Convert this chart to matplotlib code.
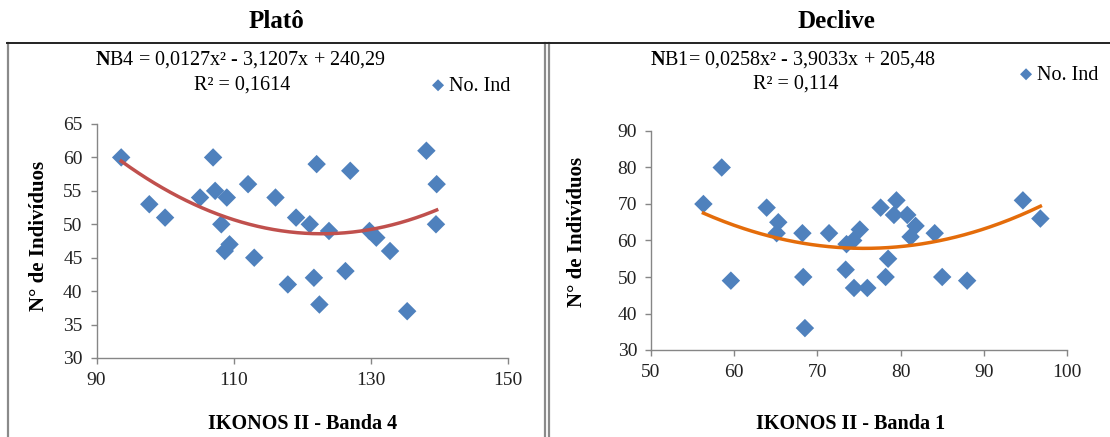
import matplotlib
matplotlib.use("Agg")
import matplotlib.pyplot as plt
from matplotlib.lines import Line2D
import numpy as np

# Plato - IKONOS II banda 4
plato_x = [93.6, 97.7, 100.0, 105.1, 107.0, 107.3, 109.0, 108.2, 108.7, 109.4,
           112.1, 113.0, 116.1, 117.9, 119.1, 121.1, 121.7, 122.1, 122.5, 123.9,
           126.3, 127.0, 129.8, 130.8, 132.8, 135.3, 138.1, 139.6, 139.5]
plato_y = [60, 53, 51, 54, 60, 55, 54, 50, 46, 47,
           56, 45, 54, 41, 51, 50, 42, 59, 38, 49,
           43, 58, 49, 48, 46, 37, 61, 56, 50]
plato_coef = [0.0127, -3.1207, 240.29]

# Declive - IKONOS II banda 1
declive_x = [56.3, 58.5, 59.6, 63.9, 65.3, 65.1, 68.2, 68.3, 68.5, 71.4,
             73.4, 73.5, 74.3, 74.4, 75.1, 76.0, 77.6, 78.2, 78.5, 79.2,
             79.5, 80.8, 81.2, 81.8, 84.1, 85.0, 88.0, 94.7, 96.8]
declive_y = [70, 80, 49, 69, 65, 62, 62, 50, 36, 62,
             52, 59, 60, 47, 63, 47, 69, 50, 55, 67,
             71, 67, 61, 64, 62, 50, 49, 71, 66]
declive_coef = [0.0258, -3.9033, 205.48]

W, H = 1110, 437
BLUE = "#4F81BD"
AXIS_GRAY = "#868686"

plt.rcParams["font.family"] = ["Liberation Serif", "DejaVu Serif"]
plt.rcParams["mathtext.fontset"] = "custom"
plt.rcParams["mathtext.rm"] = "Liberation Serif"
plt.rcParams["mathtext.bf"] = "Liberation Serif:bold"


def px(x, y):
    # pixel (vanaf linksboven) -> figuur fractie
    return x / W, 1 - y / H


def ax_rect(x0, y0, x1, y1):
    return [x0 / W, 1 - y1 / H, (x1 - x0) / W, (y1 - y0) / H]


fig = plt.figure(figsize=(W / 100, H / 100), dpi=100)


# kaders rond de twee grafieken
def fig_line(xs, ys, color, lw):
    fx = [x / W for x in xs]
    fy = [1 - y / H for y in ys]
    fig.add_artist(Line2D(fx, fy, color=color, lw=lw, transform=fig.transFigure))


fig_line([8, 8], [43, 440], "#8a8a8a", 1.6)
fig_line([545, 545], [43, 440], "#8a8a8a", 1.6)
fig_line([548.5, 548.5], [43, 440], "#8a8a8a", 1.6)
fig_line([7, 1110], [43, 43], "#222222", 1.4)


def panel(rect, xs, ys, coef, color, xlim, xticks, ylim, yticks, xlabel, ylab_pos, xlab_pos):
    ax = fig.add_axes(rect)
    ax.scatter(xs, ys, marker="D", s=9.4 ** 2, color=BLUE, edgecolors="none", zorder=2,
               label="No. Ind")
    xx = np.linspace(min(xs), max(xs), 200)
    ax.plot(xx, np.polyval(coef, xx), color=color, lw=2.5, zorder=3)
    ax.set_xlim(*xlim)
    ax.set_ylim(*ylim)
    ax.set_xticks(xticks)
    ax.set_yticks(yticks)
    for s in ["top", "right"]:
        ax.spines[s].set_visible(False)
    for s in ["left", "bottom"]:
        ax.spines[s].set_color(AXIS_GRAY)
        ax.spines[s].set_linewidth(1.0)
    ax.tick_params(colors=AXIS_GRAY, labelcolor="#222222", labelsize=14, length=4,
                   width=1.0, direction="out", pad=6)
    ax.set_ylabel("N° de Indivíduos", fontsize=15, fontweight="bold")
    ax.set_xlabel(xlabel, fontsize=14.5, fontweight="bold")
    ax.yaxis.set_label_coords(*ylab_pos)
    ax.xaxis.set_label_coords(*xlab_pos)
    return ax


ax1 = panel(ax_rect(96.5, 124, 508, 358), plato_x, plato_y, plato_coef, "#C0504D",
            (90, 150), [90, 110, 130, 150], (30, 65), range(30, 66, 5),
            "IKONOS II - Banda 4", (-0.115, 0.52), (0.5, -0.24))
ax2 = panel(ax_rect(651, 131, 1067, 350), declive_x, declive_y, declive_coef, "#E46C0A",
            (50, 100), range(50, 101, 10), (30, 90), range(30, 91, 10),
            "IKONOS II - Banda 1", (-0.155, 0.54), (0.48, -0.29))

# titels
fig.text(*px(276, 22), "Platô", ha="center", va="center", fontsize=18, fontweight="bold")
fig.text(*px(836, 22), "Declive", ha="center", va="center", fontsize=18, fontweight="bold")

# vergelijkingen
fig.text(*px(240, 60), r"$\mathbf{N}$B4 = 0,0127x² - 3,1207x + 240,29", ha="center",
         va="center", fontsize=14.5)
fig.text(*px(242, 85), "R² = 0,1614", ha="center", va="center", fontsize=14.5)
fig.text(*px(793, 60), r"$\mathbf{N}$B1= 0,0258x² - 3,9033x + 205,48", ha="center",
         va="center", fontsize=14.5)
fig.text(*px(796, 84), "R² = 0,114", ha="center", va="center", fontsize=14.5)

# legenda
for ax, lx, ly in [(ax1, 432, 86), (ax2, 1020, 75)]:
    ax.legend(loc="center left", bbox_to_anchor=px(lx, ly), bbox_transform=fig.transFigure,
              frameon=False, fontsize=14.5, handlelength=0.6, handletextpad=0.25,
              borderpad=0, borderaxespad=0, markerscale=0.65)

fig.savefig("out.png", dpi=100)
